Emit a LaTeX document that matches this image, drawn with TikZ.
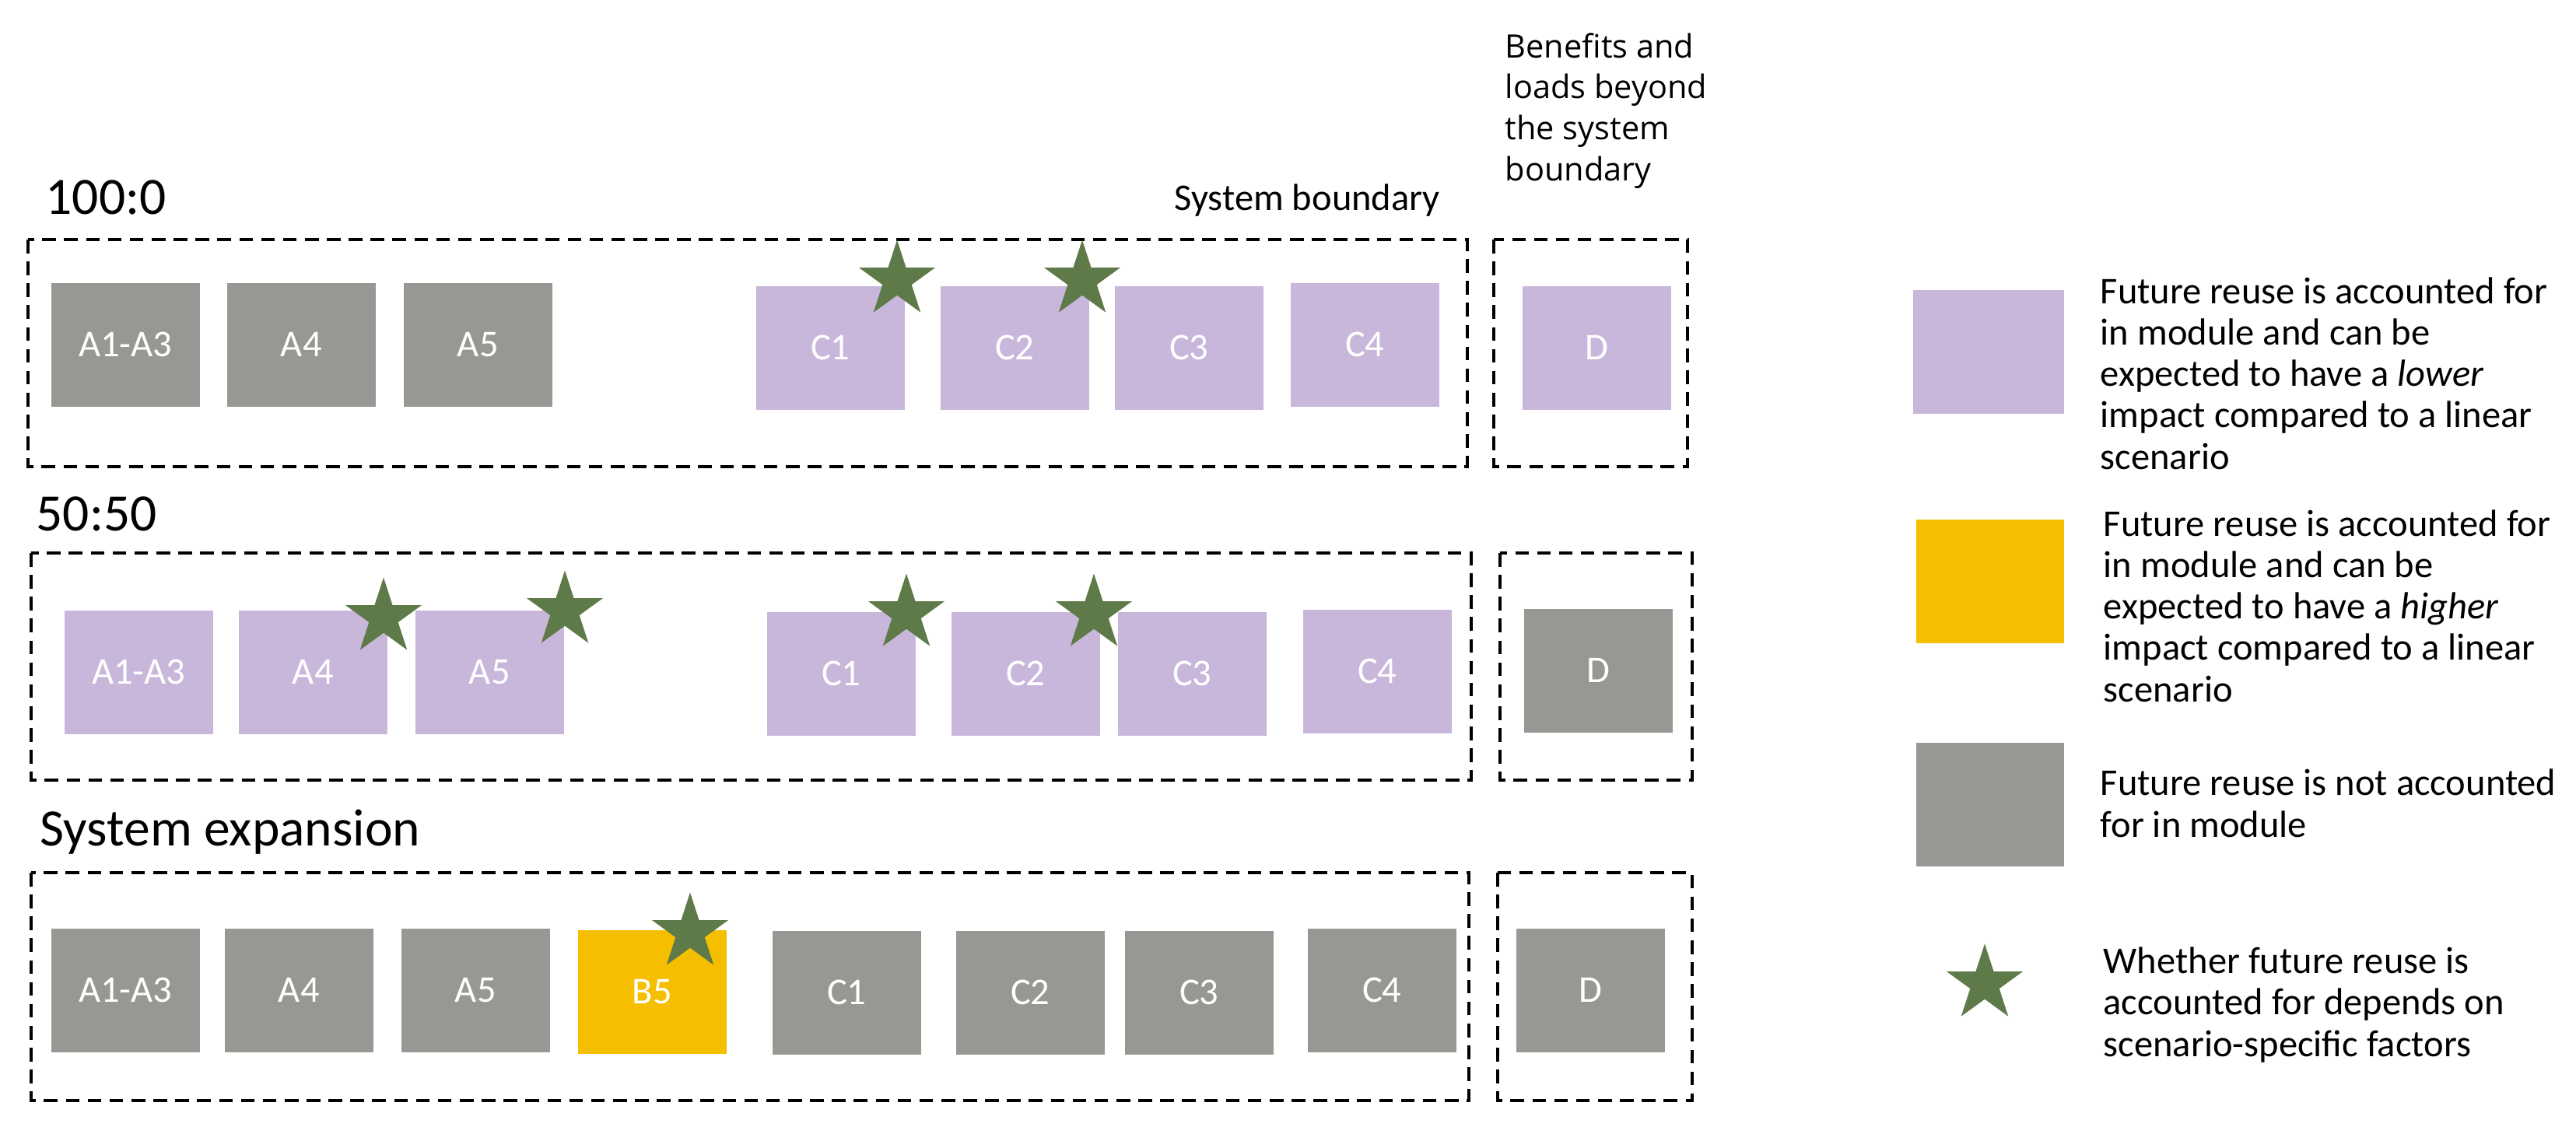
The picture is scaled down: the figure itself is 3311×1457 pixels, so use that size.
\documentclass[tikz,border=0pt]{standalone}
\usepackage{fontspec}
\setmainfont{Carlito}
\newfontfamily\benefitfont{Open Sans}
\usepackage{tikz}
\usetikzlibrary{shapes.geometric}

\definecolor{lilac}{RGB}{201,183,219}
\definecolor{stone}{RGB}{151,152,147}
\definecolor{amber}{RGB}{245,191,0}
\definecolor{leaf}{RGB}{94,122,72}

\begin{document}
\begin{tikzpicture}[x=0.01cm, y=-0.01cm,
    mod/.style={anchor=north west, minimum width=1.91cm, minimum height=1.59cm, inner sep=0, text=white, font=\fontsize{13.8}{15}\selectfont},
    lowmod/.style={mod, fill=lilac},
    highmod/.style={mod, fill=amber},
    nomod/.style={mod, fill=stone},
    sysbox/.style={line width=1.1pt, dash pattern=on 5pt off 3pt},
    reuse/.style={star, star points=5, star point ratio=2.618, minimum size=1.03cm, inner sep=0, fill=leaf},
    rowlabel/.style={anchor=base west, inner sep=0, font=\fontsize{19.2}{22}\selectfont},
    legtext/.style={anchor=base west, align=left, inner sep=0, font=\fontsize{13.8}{15.08}\selectfont}]
      \useasboundingbox (0,0) rectangle (3311,1457);
      %\draw [dotted] (0,0) grid[step=100] (3311,1457);
      % base of a multi-line node is its last line
      \node [anchor=base west, align=left, inner sep=0, font=\benefitfont\fontsize{11.8}{14.97}\selectfont] (beyond) at (1934,232) {Benefits and\\loads beyond\\the system\\boundary};
      \node [anchor=base west, inner sep=0, font=\fontsize{13.8}{15}\selectfont] (sysb) at (1509,270) {System boundary};

      % 100:0
      \node [rowlabel] (t100) at (58,275) {100:0};
      \draw [sysbox] (36,308) rectangle (1886,600);
      \draw [sysbox] (1920,308) rectangle (2169,600);
      \node [nomod]  (a13r1) at (  65, 363) {A1-A3};
      \node [nomod]  (a4r1)  at ( 291, 363) {A4};
      \node [nomod]  (a5r1)  at ( 518, 363) {A5};
      \node [lowmod] (c1r1)  at ( 971, 367) {C1};
      \node [lowmod] (c2r1)  at (1208, 367) {C2};
      \node [lowmod] (c3r1)  at (1432, 367) {C3};
      \node [lowmod] (c4r1)  at (1658, 363) {C4};
      \node [lowmod] (dr1)   at (1956, 367) {D};
      \node [reuse]  (s1r1)  at (1153, 360) {};
      \node [reuse]  (s2r1)  at (1391, 360) {};

      % 50:50
      \node [rowlabel] (t5050) at (46,682) {50:50};
      \draw [sysbox] (40,711) rectangle (1891,1003);
      \draw [sysbox] (1928,711) rectangle (2175,1003);
      \node [lowmod] (a13r2) at (  82, 784) {A1-A3};
      \node [lowmod] (a4r2)  at ( 306, 784) {A4};
      \node [lowmod] (a5r2)  at ( 533, 784) {A5};
      \node [lowmod] (c1r2)  at ( 985, 786) {C1};
      \node [lowmod] (c2r2)  at (1222, 786) {C2};
      \node [lowmod] (c3r2)  at (1436, 786) {C3};
      \node [lowmod] (c4r2)  at (1674, 783) {C4};
      \node [nomod]  (dr2)   at (1958, 782) {D};
      \node [reuse]  (s1r2)  at ( 493, 794) {};
      \node [reuse]  (s2r2)  at ( 726, 785) {};
      \node [reuse]  (s3r2)  at (1165, 789) {};
      \node [reuse]  (s4r2)  at (1406, 789) {};

      % System expansion
      \node [rowlabel] (tsys) at (51,1087) {System expansion};
      \draw [sysbox] (40,1122) rectangle (1888,1415);
      \draw [sysbox] (1925,1122) rectangle (2175,1415);
      \node [nomod]   (a13r3) at (  65,1193) {A1-A3};
      \node [nomod]   (a4r3)  at ( 288,1193) {A4};
      \node [nomod]   (a5r3)  at ( 515,1193) {A5};
      \node [highmod] (b5r3)  at ( 742,1195) {B5};
      \node [nomod]   (c1r3)  at ( 992,1196) {C1};
      \node [nomod]   (c2r3)  at (1228,1196) {C2};
      \node [nomod]   (c3r3)  at (1445,1196) {C3};
      \node [nomod]   (c4r3)  at (1680,1193) {C4};
      \node [nomod]   (dr3)   at (1948,1193) {D};
      \node [reuse]   (s1r3)  at ( 887,1199) {};

      % legend
      \node [lowmod, minimum width=1.94cm]  (keylow)  at (2458, 372) {};
      \node [highmod, minimum width=1.90cm] (keyhigh) at (2462, 667) {};
      \node [nomod, minimum width=1.90cm]   (keynone) at (2462, 954) {};
      \node [reuse]  (keystar) at (2551,1265) {};
      \node [legtext] (txtlow)  at (2699, 603) {Future reuse is accounted for\\in module and can be\\expected to have a \textit{lower}\\impact compared to a linear\\scenario};
      \node [legtext] (txthigh) at (2703, 902) {Future reuse is accounted for\\in module and can be\\expected to have a \textit{higher}\\impact compared to a linear\\scenario};
      \node [legtext] (txtnone) at (2699,1076) {Future reuse is not accounted\\for in module};
      \node [legtext] (txtstar) at (2703,1358) {Whether future reuse is\\accounted for depends on\\scenario-specific factors};
\end{tikzpicture}
\end{document}
